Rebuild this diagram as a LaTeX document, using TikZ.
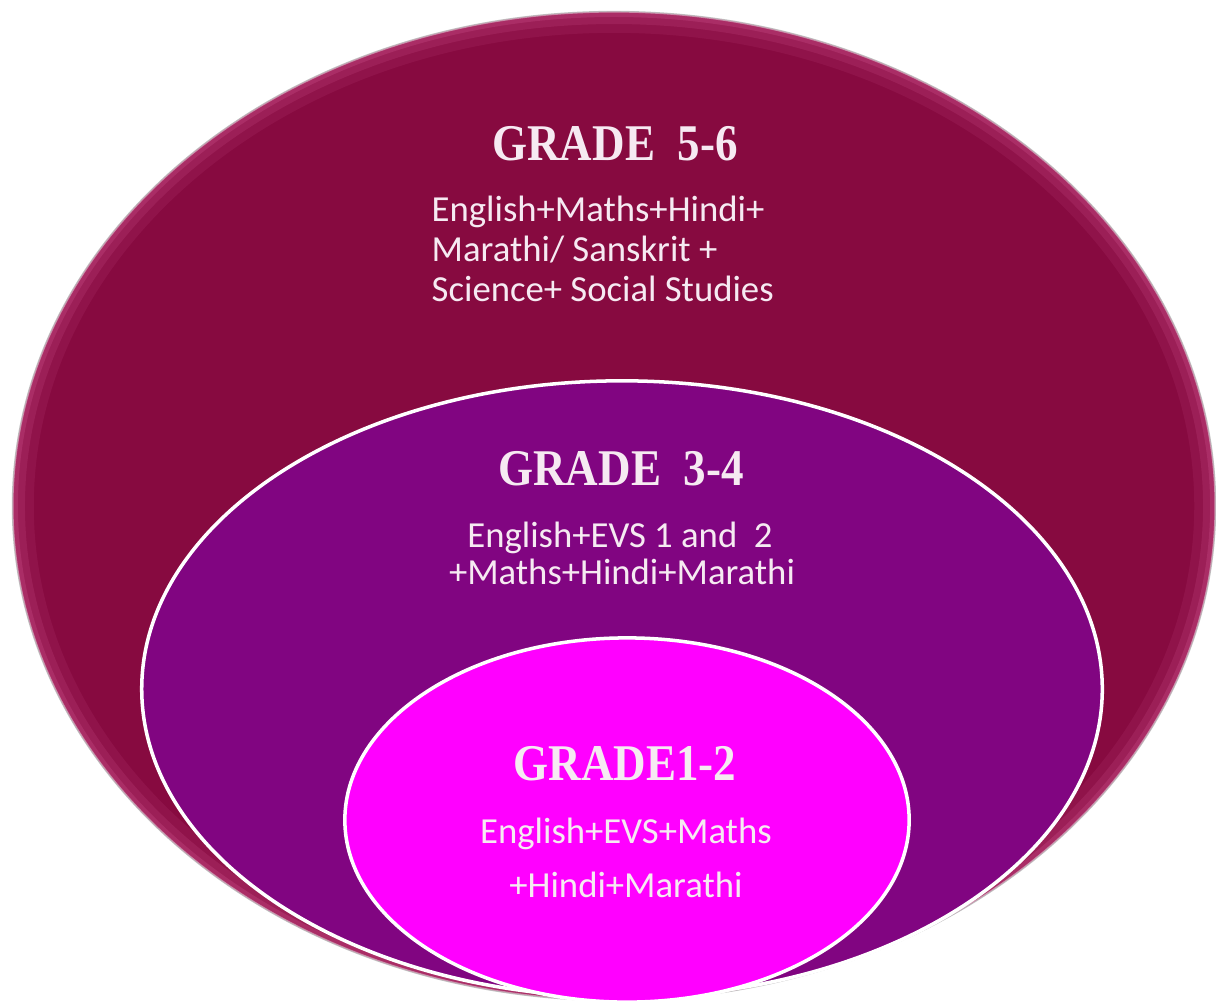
\documentclass[tikz,border=0pt]{standalone}
\usepackage{fontspec}
\setmainfont{Carlito}
\newfontfamily\titlefont{Liberation Serif}
\usetikzlibrary{shapes.geometric}
\definecolor{outerc}{HTML}{870A40}
\definecolor{outerrim}{HTML}{D65A95}
\definecolor{middlec}{HTML}{810581}
\definecolor{innerc}{HTML}{FF00FF}
\definecolor{textc}{HTML}{F6EAF2}
\begin{document}
\begin{tikzpicture}[x=0.01cm,y=-0.01cm,
  ring/.style={ellipse, inner sep=0pt},
  rimglow/.style={draw=outerrim, draw opacity=#1},
  gradetitle/.style={text=textc, font=\titlefont\bfseries\fontsize{12.2pt}{14pt}\selectfont, inner sep=0pt},
  bodytext/.style={text=textc, font=\fontsize{10.44pt}{12pt}\selectfont, inner sep=0pt}]
\useasboundingbox (0,0) rectangle (1216,1000);
\clip (0,0) rectangle (1216,1000);
\node[ring, fill=outerc, draw=black!25, line width=0.5pt, minimum width=12.02cm, minimum height=9.88cm] (outer) at (614,506) {};
\begin{scope}
  \clip (outer.center) ellipse [x radius=6.01cm, y radius=4.94cm];
  \draw[rimglow=0.12, line width=12pt] (outer.center) ellipse [x radius=6.01cm, y radius=4.94cm];
  \draw[rimglow=0.18, line width=7pt] (outer.center) ellipse [x radius=6.01cm, y radius=4.94cm];
  \draw[rimglow=0.25, line width=3pt] (outer.center) ellipse [x radius=6.01cm, y radius=4.94cm];
\end{scope}
\node[ring, fill=middlec, draw=white, line width=1pt, minimum width=9.6cm, minimum height=6.16cm] (middle) at (622,689) {};
\node[ring, fill=innerc, draw=white, line width=1pt, minimum width=5.64cm, minimum height=3.64cm] (inner) at (627,820) {};
% Grade 5-6
\node[gradetitle] (g56) at (615,144) {\scalebox{1.05}[1.2]{GRADE\ \ 5-6}};
\node[bodytext, anchor=base west] (b56a) at (431,221) {English+Maths+Hindi+};
\node[bodytext, anchor=base west] (b56b) at (431,261) {Marathi/ Sanskrit +};
\node[bodytext, anchor=base west] (b56c) at (431,301) {Science+ Social Studies};
% Grade 3-4
\node[gradetitle] (g34) at (621,469) {\scalebox{1.05}[1.2]{GRADE\ \ 3-4}};
\node[bodytext, anchor=base] (b34a) at (620,547) {English+EVS 1 and\ \ 2};
\node[bodytext, anchor=base] (b34b) at (622,584) {+Maths+Hindi+Marathi};
% Grade 1-2
\node[gradetitle] (g12) at (625,764) {\scalebox{1.05}[1.2]{GRADE1-2}};
\node[bodytext, anchor=base] (b12a) at (626,843) {English+EVS+Maths};
\node[bodytext, anchor=base] (b12b) at (626,897) {+Hindi+Marathi};
\end{tikzpicture}
\end{document}
